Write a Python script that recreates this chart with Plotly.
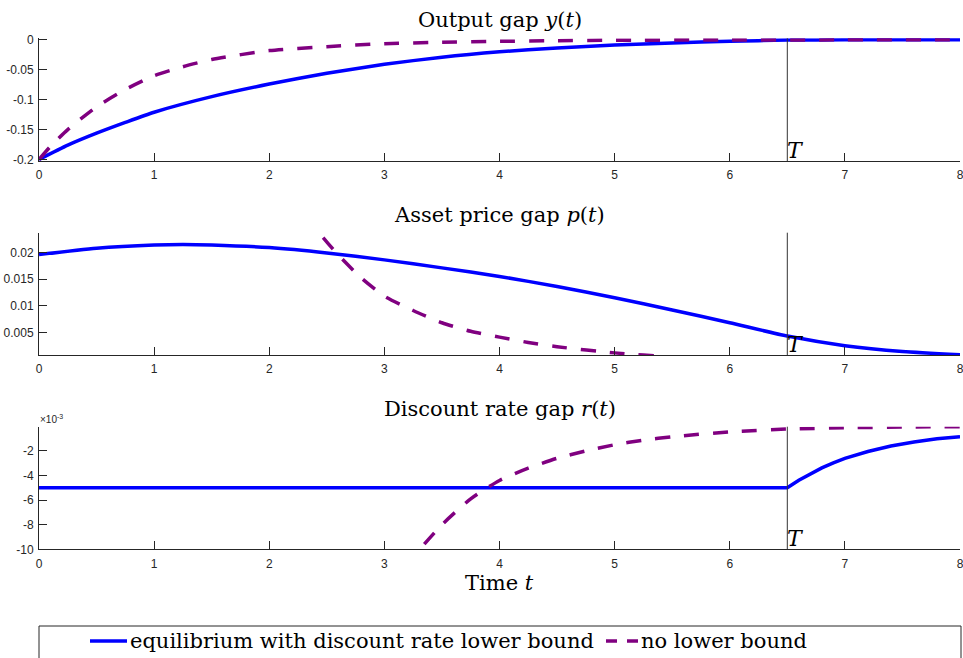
import plotly.graph_objects as go

# ---------------- data ----------------
T_SWITCH = 6.5

t_y_eq = [0, 0.25, 0.5, 0.75, 1, 1.5, 2, 2.5, 3, 3.5, 4, 4.5, 5, 5.5, 6, 6.5, 7, 7.5, 8]
y_eq = [-0.200, -0.176, -0.156, -0.138, -0.121, -0.095, -0.074, -0.056, -0.041, -0.029,
        -0.020, -0.0135, -0.0088, -0.0052, -0.0025, -0.0005, 0, 0, 0]

t_y_nb = [0, 0.1, 0.25, 0.5, 0.75, 1, 1.25, 1.5, 2, 2.5, 3, 3.5, 4, 4.5, 5, 6, 7, 8]
y_nb = [-0.200, -0.178, -0.150, -0.112, -0.083, -0.060, -0.045, -0.033, -0.018, -0.0115,
        -0.0065, -0.0042, -0.0026, -0.0015, -0.0008, -0.0003, -0.0001, 0]

t_p_eq = [0, 0.5, 1, 1.25, 1.5, 2, 2.5, 3, 3.5, 4, 4.5, 5, 5.5, 6, 6.5, 7, 7.5, 8]
p_eq = [0.0196, 0.0208, 0.0214, 0.0215, 0.0214, 0.0209, 0.0199, 0.0186, 0.0171, 0.0155,
        0.0136, 0.0115, 0.0092, 0.0068, 0.0043, 0.0025, 0.0014, 0.0008]

t_p_nb = [2.3, 2.43, 2.6, 2.8, 3.0, 3.25, 3.5, 3.75, 4.0, 4.25, 4.5, 5.0, 5.5, 6.0, 7.0, 8.0]
p_nb = [0.0268, 0.0237, 0.0195, 0.0152, 0.0118, 0.0091, 0.0068, 0.0052, 0.0041, 0.0031,
        0.0023, 0.00115, 0.0004, 0.0002, 0.0001, 0.00005]

t_r_eq = [0, 6.5, 6.6, 6.7, 6.8, 6.9, 7.0, 7.2, 7.4, 7.6, 7.8, 8.0]
r_eq = [-0.005, -0.005, -0.00439, -0.00385, -0.00338, -0.00297, -0.00260, -0.00205,
        -0.00160, -0.00128, -0.00101, -0.00084]

t_r_nb = [3.2, 3.31, 3.5, 3.75, 4.0, 4.25, 4.5, 4.75, 5.0, 5.25, 5.5, 6.0, 6.5, 7.0, 7.5, 8.0]
r_nb = [-0.0115, -0.0100, -0.0080, -0.0059, -0.0044, -0.0034, -0.0026, -0.0020, -0.0015,
        -0.00112, -0.00085, -0.00045, -0.00022, -0.00012, -0.00006, -0.00003]

x_ticks = [0, 1, 2, 3, 4, 5, 6, 7, 8]
y1_ticks = [0, -0.05, -0.1, -0.15, -0.2]
y1_labels = ["0", "-0.05", "-0.1", "-0.15", "-0.2"]
y2_ticks = [0.005, 0.01, 0.015, 0.02]
y2_labels = ["0.005", "0.01", "0.015", "0.02"]
y3_ticks = [-0.002, -0.004, -0.006, -0.008, -0.010]
y3_labels = ["-2", "-4", "-6", "-8", "-10"]

titles = ["Output gap <i>y</i>(<i>t</i>)", "Asset price gap <i>p</i>(<i>t</i>)",
          "Discount rate gap <i>r</i>(<i>t</i>)"]
name_eq = "equilibrium with discount rate lower bound"
name_nb = "no lower bound"

# ---------------- styling / layout ----------------
W, H = 963, 658
BLUE = "#0000FF"
PURPLE = "#800080"
AX = "#262626"
SERIF = "DejaVu Serif"
SANS = "Liberation Sans"
LW = 3.5
DASH = "15px,14px"

x_left, x_right = 39, 960
panels_px = [(38.3, 161.0), (232.7, 355.0), (426.7, 549.3)]  # (top, bottom)
y_ranges = [[-0.2025, 0.0025], [0.00075, 0.0237], [-0.0100, -0.00003]]


def fy(px):
    return 1 - px / H


def fx(px):
    return px / W


fig = go.Figure()

series = [
    (t_y_eq, y_eq, t_y_nb, y_nb, "spline"),
    (t_p_eq, p_eq, t_p_nb, p_nb, "spline"),
    (t_r_eq, r_eq, t_r_nb, r_nb, "linear"),
]
for i, (te, ve, tn, vn, eq_shape) in enumerate(series):
    sfx = "" if i == 0 else str(i + 1)
    eq_line = dict(color=BLUE, width=LW, shape=eq_shape)
    if eq_shape == "spline":
        eq_line["smoothing"] = 0.6
    fig.add_trace(go.Scatter(x=te, y=ve, mode="lines", name=name_eq, line=eq_line,
                             xaxis="x" + sfx, yaxis="y" + sfx, showlegend=False))
    fig.add_trace(go.Scatter(x=tn, y=vn, mode="lines", name=name_nb,
                             line=dict(color=PURPLE, width=LW, dash=DASH, shape="spline", smoothing=0.6),
                             xaxis="x" + sfx, yaxis="y" + sfx, showlegend=False))

layout = dict(
    width=W, height=H, autosize=False,
    margin=dict(l=0, r=0, t=0, b=0, pad=0),
    paper_bgcolor="white", plot_bgcolor="white",
    showlegend=False,
)

tick_y = [y1_ticks, y2_ticks, y3_ticks]
tick_yl = [y1_labels, y2_labels, y3_labels]
annotations = []
shapes = []
for i in range(3):
    sfx = "" if i == 0 else str(i + 1)
    top, bot = panels_px[i]
    layout["xaxis" + sfx] = dict(
        domain=[fx(x_left), fx(x_right)], range=[0, 8], anchor="y" + sfx,
        tickvals=x_ticks, ticktext=[str(v) for v in x_ticks],
        ticks="inside", ticklen=8, tickwidth=1, tickcolor=AX,
        showline=True, linecolor=AX, linewidth=1, showgrid=False, zeroline=False,
        tickfont=dict(family=SANS, size=12, color=AX), fixedrange=True, automargin=False,
        ticklabeloverflow="allow", ticklabelstandoff=3,
    )
    layout["yaxis" + sfx] = dict(
        domain=[fy(bot), fy(top)], range=y_ranges[i], anchor="x" + sfx,
        tickvals=tick_y[i], ticktext=tick_yl[i],
        ticks="inside", ticklen=8, tickwidth=1, tickcolor=AX,
        showline=True, linecolor=AX, linewidth=1, showgrid=False, zeroline=False,
        tickfont=dict(family=SANS, size=12, color=AX), fixedrange=True, automargin=False,
        ticklabelstandoff=2, ticklabeloverflow="allow",
    )
    # vertical line at T
    shapes.append(dict(type="line", xref="x" + sfx, yref="y" + sfx + " domain",
                       x0=T_SWITCH, x1=T_SWITCH, y0=0, y1=1,
                       line=dict(color="#333333", width=1)))
    # T label
    annotations.append(dict(text="<i>T</i>", xref="x" + sfx, yref="y" + sfx + " domain",
                            x=T_SWITCH, y=0, xanchor="left", yanchor="bottom",
                            showarrow=False, yshift=-4, xshift=-2,
                            font=dict(family=SERIF, size=22, color="black")))
    # panel title
    annotations.append(dict(text=titles[i], xref="paper", yref="paper",
                            x=fx((x_left + x_right) / 2), y=fy(top - 18),
                            xanchor="center", yanchor="middle", showarrow=False,
                            font=dict(family=SERIF, size=21, color="black")))

# x10^-3 exponent label
annotations.append(dict(text="×10<sup>-3</sup>", xref="paper", yref="paper",
                        x=fx(38), y=fy(419), xanchor="left", yanchor="middle",
                        showarrow=False, font=dict(family=SANS, size=10, color=AX)))
# x-axis label
annotations.append(dict(text="Time <i>t</i>", xref="paper", yref="paper",
                        x=fx((x_left + x_right) / 2), y=fy(583),
                        xanchor="center", yanchor="middle", showarrow=False,
                        font=dict(family=SERIF, size=21, color="black")))

# legend (drawn by hand so it spans the full width like the reference)
shapes.append(dict(type="rect", xref="paper", yref="paper",
                   x0=fx(39), x1=fx(961), y0=fy(690), y1=fy(626),
                   line=dict(color=AX, width=1), fillcolor="rgba(0,0,0,0)", layer="below"))
LEG_Y = 641
shapes.append(dict(type="line", xref="paper", yref="paper",
                   x0=fx(90), x1=fx(127), y0=fy(LEG_Y), y1=fy(LEG_Y),
                   line=dict(color=BLUE, width=LW)))
shapes.append(dict(type="line", xref="paper", yref="paper",
                   x0=fx(606), x1=fx(638), y0=fy(LEG_Y), y1=fy(LEG_Y),
                   line=dict(color=PURPLE, width=LW, dash="11px,10px")))
annotations.append(dict(text=name_eq, xref="paper", yref="paper",
                        x=fx(128), y=fy(LEG_Y), xanchor="left", yanchor="middle",
                        showarrow=False, font=dict(family=SERIF, size=21, color="black")))
annotations.append(dict(text=name_nb, xref="paper", yref="paper",
                        x=fx(639), y=fy(LEG_Y), xanchor="left", yanchor="middle",
                        showarrow=False, font=dict(family=SERIF, size=21, color="black")))

layout["annotations"] = annotations
layout["shapes"] = shapes
fig.update_layout(**layout)

fig.write_html(
    "out.html",
    config={"displayModeBar": False},
    post_script="document.body.style.margin='0';document.body.style.padding='0';"
                "document.documentElement.style.overflow='hidden';",
)
